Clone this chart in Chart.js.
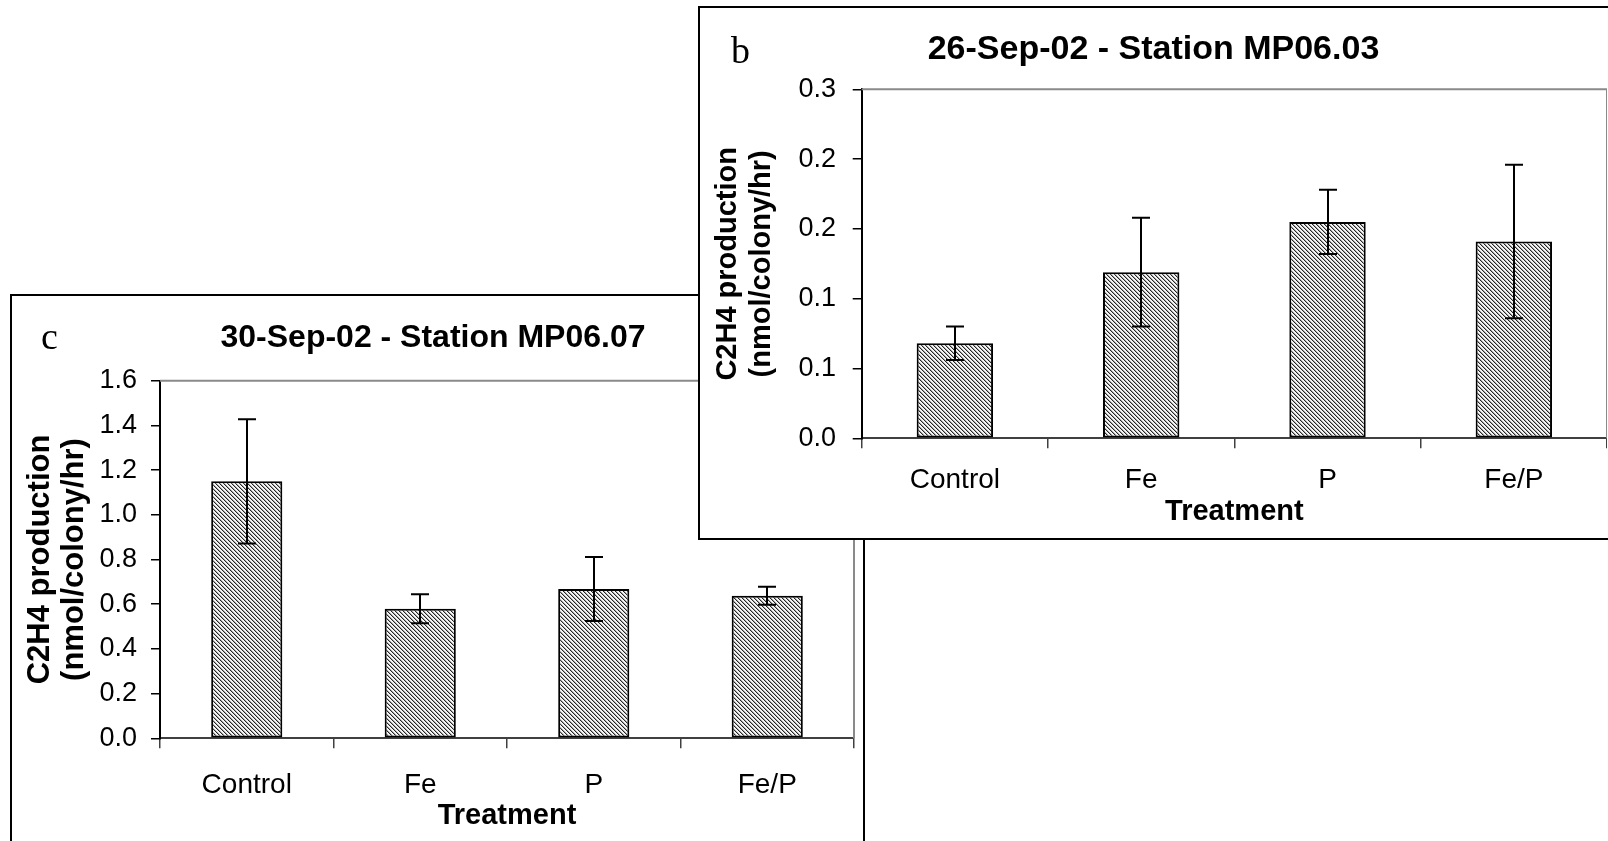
<!DOCTYPE html>
<html>
<head>
<meta charset="utf-8">
<script src="https://cdn.jsdelivr.net/npm/chart.js@4.4.1/dist/chart.umd.min.js"></script>
<style>
  html, body { margin: 0; padding: 0; background: #fff; width: 1608px; height: 841px; overflow: hidden; }
  .panel { position: absolute; background: #fff; border: 2px solid #000; box-sizing: border-box; overflow: hidden; }
  .panel canvas { position: absolute; left: 0; top: 0; }
  .tag { position: absolute; font-family: "Liberation Serif", "Times New Roman", serif; font-size: 38px; line-height: 1; color: #000; }
</style>
</head>
<body>
<div class="panel" id="panelC" style="left:10px; top:294px; width:855px; height:560px;">
  <canvas id="chartC" width="851" height="545"></canvas>
  <div class="tag" style="left:29px; top:21px;">c</div>
</div>
<div class="panel" id="panelB" style="left:698px; top:6px; width:930px; height:534px;">
  <canvas id="chartB" width="907" height="530"></canvas>
  <div class="tag" style="left:31px; top:23px;">b</div>
</div>
<script>
// Treatments applied at each station
const categories = ['Control', 'Fe', 'P', 'Fe/P'];

// 26-Sep-02, Station MP06.03: mean C2H4 production and error (nmol/colony/hr)
const meansB = [0.068, 0.119, 0.155, 0.141];
const errorsB = [0.012, 0.039, 0.023, 0.055];
const yTicksB = [0, 0.05, 0.10, 0.15, 0.20, 0.25];
const yTickLabelsB = ['0.0', '0.1', '0.1', '0.2', '0.2', '0.3'];

// 30-Sep-02, Station MP06.07
const meansC = [1.15, 0.58, 0.668, 0.638];
const errorsC = [0.278, 0.065, 0.143, 0.040];
const yTicksC = [0, 0.2, 0.4, 0.6, 0.8, 1.0, 1.2, 1.4, 1.6];
const yTickLabelsC = ['0.0', '0.2', '0.4', '0.6', '0.8', '1.0', '1.2', '1.4', '1.6'];

const SANS = '"Liberation Sans", Arial, sans-serif';
const yTitle = ['C2H4 production', '(nmol/colony/hr)'];

// Diagonal hatch fill for the bars
function hatchPattern() {
  const c = document.createElement('canvas');
  c.width = 4; c.height = 4;
  const g = c.getContext('2d');
  g.fillStyle = '#f6f6f6';
  g.fillRect(0, 0, 4, 4);
  for (let r = 0; r < 4; r++) {
    g.fillStyle = '#262626';
    g.fillRect(r, r, 1, 1);
    g.fillStyle = '#a8a8a8';
    g.fillRect((r + 1) % 4, r, 1, 1);
  }
  return g.createPattern(c, 'repeat');
}

// Gray top/right border of the plot area
const plotFrame = {
  id: 'plotFrame',
  beforeDatasetsDraw(chart) {
    const { ctx, chartArea: a } = chart;
    ctx.save();
    ctx.strokeStyle = '#8a8a8a';
    ctx.lineWidth = 2;
    ctx.beginPath();
    ctx.moveTo(a.left, a.top);
    ctx.lineTo(a.right, a.top);
    ctx.lineTo(a.right, a.bottom);
    ctx.stroke();
    ctx.restore();
  }
};

// Error bars with caps, positioned through the value scale
const errorBars = {
  id: 'errorBars',
  afterDatasetsDraw(chart, args, opts) {
    const { ctx } = chart;
    const ys = chart.scales.y;
    const meta = chart.getDatasetMeta(0);
    const vals = chart.data.datasets[0].data;
    ctx.save();
    ctx.strokeStyle = '#000';
    ctx.lineWidth = 2;
    meta.data.forEach((bar, i) => {
      const x = Math.round(bar.x);
      const yt = ys.getPixelForValue(vals[i] + opts.errors[i]);
      const yb = ys.getPixelForValue(vals[i] - opts.errors[i]);
      ctx.beginPath();
      ctx.moveTo(x, yt); ctx.lineTo(x, yb);
      ctx.moveTo(x - 9, yt); ctx.lineTo(x + 9, yt);
      ctx.moveTo(x - 9, yb); ctx.lineTo(x + 9, yb);
      ctx.stroke();
    });
    ctx.restore();
  }
};

function makeChart(id, cfg) {
  return new Chart(document.getElementById(id), {
    type: 'bar',
    data: {
      labels: categories,
      datasets: [{
        data: cfg.means,
        backgroundColor: hatchPattern(),
        borderColor: '#000',
        borderWidth: 2,
        borderSkipped: false,
        barPercentage: 0.41,
        categoryPercentage: 1
      }]
    },
    options: {
      responsive: false,
      maintainAspectRatio: false,
      animation: false,
      devicePixelRatio: 1,
      layout: { padding: { left: 0, right: cfg.padRight, top: 0, bottom: 0 } },
      plugins: {
        legend: { display: false },
        tooltip: { enabled: false },
        title: {
          display: true,
          text: cfg.title,
          color: '#000',
          font: { family: SANS, size: cfg.titleSize, weight: 'bold', lineHeight: 1.2 },
          padding: { top: cfg.titleTop, bottom: cfg.titleBottom }
        },
        errorBars: { errors: cfg.errors }
      },
      scales: {
        x: {
          grid: { display: true, drawOnChartArea: false, drawTicks: true, tickLength: 10, color: '#404040', lineWidth: 1.5, offset: true },
          border: { display: true, color: '#404040', width: 2 },
          ticks: { color: '#000', font: { family: SANS, size: 28, lineHeight: 1.2 }, padding: cfg.xTickPad, maxRotation: 0 },
          title: {
            display: true, text: 'Treatment', color: '#000',
            font: { family: SANS, size: 29, weight: 'bold', lineHeight: 1.2 },
            padding: { top: 0, bottom: cfg.xTitlePad }
          },
          afterFit(s) { s.height = cfg.xHeight; }
        },
        y: {
          min: 0,
          max: cfg.yTicks[cfg.yTicks.length - 1],
          afterBuildTicks(s) { s.ticks = cfg.yTicks.map(v => ({ value: v })); },
          grid: { display: true, drawOnChartArea: false, drawTicks: true, tickLength: 9, color: '#000', lineWidth: 1.5 },
          border: { display: true, color: '#000', width: 2 },
          ticks: {
            color: '#000', font: { family: SANS, size: 27, lineHeight: 1.2 }, padding: cfg.yTickPad,
            callback: (v, i) => cfg.yTickLabels[i]
          },
          title: {
            display: true, text: yTitle, color: '#000',
            font: { family: SANS, size: cfg.yTitleSize, weight: 'bold', lineHeight: 34 / cfg.yTitleSize },
            padding: { top: 11, bottom: 0 }
          },
          afterFit(s) { s.width = cfg.yWidth; }
        }
      }
    },
    plugins: [plotFrame, errorBars]
  });
}

makeChart('chartC', {
  title: '30-Sep-02 - Station MP06.07', titleSize: 32, yTitleSize: 31,
  means: meansC, errors: errorsC, yTicks: yTicksC, yTickLabels: yTickLabelsC,
  padRight: 9, titleTop: 23.1, titleBottom: 23.2,
  yWidth: 148, yTickPad: 14, xHeight: 102.7, xTickPad: 20.4, xTitlePad: 8.0
});

makeChart('chartB', {
  title: '26-Sep-02 - Station MP06.03', titleSize: 34, yTitleSize: 29,
  means: meansB, errors: errorsB, yTicks: yTicksB, yTickLabels: yTickLabelsB,
  padRight: 0, titleTop: 21.6, titleBottom: 18.9,
  yWidth: 161.7, yTickPad: 16.7, xHeight: 99.7, xTickPad: 15.4, xTitlePad: 8.3
});
</script>
</body>
</html>
